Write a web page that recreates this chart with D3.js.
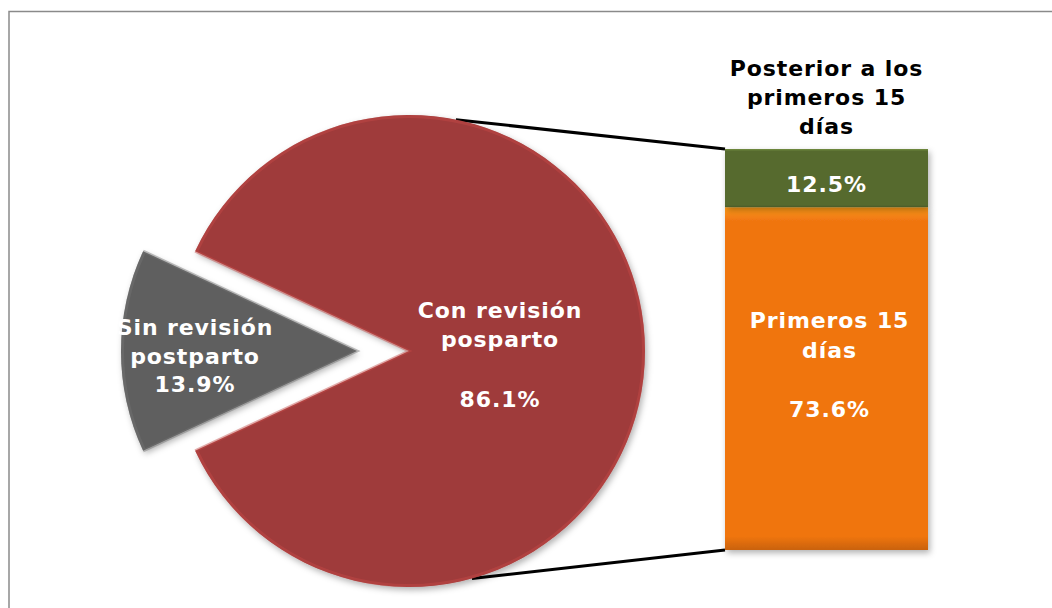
<!DOCTYPE html>
<html>
<head>
<meta charset="utf-8">
<script src="https://cdn.jsdelivr.net/npm/d3@7"></script>
<style>
  body { margin: 0; background: #fff; }
  svg text { font-family: "DejaVu Sans", Verdana, sans-serif; font-weight: bold; letter-spacing: 0.9px; }
</style>
</head>
<body>
<svg id="chart" width="1052" height="608"></svg>
<script>
const pieLabels = [['Sin revisión', 'postparto'], ['Con revisión', 'posparto']];
const pieValues = [13.9, 86.1];
const barLabels = [['Primeros 15', 'días'], []];
const barValues = [73.6, 12.5];
const barTitle = ['Posterior a los', 'primeros 15', 'días'];

const svg = d3.select('#chart');
const defs = svg.append('defs');
const fs = 22;

// frame
svg.append('path')
  .attr('d', 'M9,608 V11.5 H1052')
  .attr('fill', 'none')
  .attr('stroke', '#8a8a8a')
  .attr('stroke-width', 1.5);

const cx = 409, cy = 351, r = 236, explode = 52;
const pieColors = ['#5e5e5e', '#9f3b3a'];
const barColors = ['#f07511', '#566a2f'];

function grad(id, base) {
  const g = defs.append('radialGradient').attr('id', id)
    .attr('gradientUnits', 'userSpaceOnUse')
    .attr('cx', cx).attr('cy', cy).attr('r', r);
  g.append('stop').attr('offset', '0.9').attr('stop-color', base);
  g.append('stop').attr('offset', '0.97').attr('stop-color', d3.color(base).darker(0.3));
  g.append('stop').attr('offset', '1').attr('stop-color', d3.color(base).brighter(0.6));
}
grad('g0', pieColors[0]);
grad('g1', pieColors[1]);

const shadow = defs.append('filter').attr('id', 'sh').attr('x', '-10%').attr('y', '-10%').attr('width', '130%').attr('height', '130%');
shadow.append('feDropShadow').attr('dx', 2).attr('dy', 3).attr('stdDeviation', 3).attr('flood-opacity', 0.3);

const total = d3.sum(pieValues);
const grayAngle = pieValues[0] / total * 2 * Math.PI;
const pie = d3.pie().sort(null)
  .startAngle(-Math.PI / 2 - grayAngle / 2)
  .endAngle(-Math.PI / 2 - grayAngle / 2 + 2 * Math.PI);
const arcs = pie(pieValues);
const arc = d3.arc().innerRadius(0).outerRadius(r);

// bar scale
const barX0 = 725, barW = 203;
const y = d3.scaleLinear().domain([0, d3.sum(barValues)]).range([550, 149]);

// connector lines
const a1 = 0.2, a2 = Math.PI - 0.27;
svg.append('line')
  .attr('x1', cx + r * Math.sin(a1)).attr('y1', cy - r * Math.cos(a1))
  .attr('x2', barX0).attr('y2', y(d3.sum(barValues)))
  .attr('stroke', '#000').attr('stroke-width', 3);
svg.append('line')
  .attr('x1', cx + r * Math.sin(a2)).attr('y1', cy - r * Math.cos(a2))
  .attr('x2', barX0).attr('y2', y(0))
  .attr('stroke', '#000').attr('stroke-width', 3);

const pieG = svg.selectAll('g.slice')
  .data(arcs)
  .join('g')
  .attr('class', 'slice')
  .attr('transform', (d, i) => {
    const mid = (d.startAngle + d.endAngle) / 2;
    const off = i === 0 ? explode : 0;
    return `translate(${cx + off * Math.sin(mid)},${cy - off * Math.cos(mid)})`;
  });

pieG.append('path')
  .attr('d', arc)
  .attr('fill', (d, i) => pieColors[i])
  .attr('filter', 'url(#sh)');
pieG.append('path')
  .attr('d', d3.arc().innerRadius(0).outerRadius(r - 1.5))
  .attr('fill', 'none')
  .attr('stroke', (d, i) => d3.color(pieColors[i]).brighter(0.6))
  .attr('stroke-opacity', 0.45)
  .attr('stroke-width', 3);

// pie labels
const pieLabelPos = [[195, 335, 29], [500, 318, 29]];
pieG.each(function(d, i) {
  const [lx, ly, lh] = pieLabelPos[i];
  const t = svg.append('text')
    .attr('text-anchor', 'middle')
    .attr('fill', '#fff')
    .attr('font-size', fs);
  pieLabels[i].forEach((s, k) => {
    t.append('tspan').attr('x', lx).attr('y', ly + k * lh).text(s);
  });
  const pct = d3.format('.1f')(pieValues[i]) + '%';
  svg.append('text')
    .attr('text-anchor', 'middle')
    .attr('fill', '#fff')
    .attr('font-size', fs)
    .attr('x', lx).attr('y', i === 0 ? ly + 2 * lh - 1 : 407)
    .text(pct);
});

// stacked bar
let acc = 0;
const stack = barValues.map((v, i) => {
  const s = {v: v, y0: acc, y1: acc + v, i: i};
  acc += v;
  return s;
});

stack.forEach(s => {
  const lg = defs.append('linearGradient').attr('id', 'b' + s.i)
    .attr('x1', 0).attr('y1', 0).attr('x2', 0).attr('y2', 1);
  const c = barColors[s.i];
  lg.append('stop').attr('offset', 0).attr('stop-color', d3.color(c).brighter(0.8));
  lg.append('stop').attr('offset', 0.04).attr('stop-color', c);
  lg.append('stop').attr('offset', 0.96).attr('stop-color', c);
  lg.append('stop').attr('offset', 1).attr('stop-color', d3.color(c).darker(0.5));
});

svg.selectAll('rect.bar')
  .data(stack)
  .join('rect')
  .attr('class', 'bar')
  .attr('x', barX0)
  .attr('width', barW)
  .attr('y', d => y(d.y1))
  .attr('height', d => y(d.y0) - y(d.y1))
  .attr('fill', d => `url(#b${d.i})`)
  .attr('filter', 'url(#sh)');

const bx = barX0 + barW / 2;
svg.append('text')
  .attr('text-anchor', 'middle').attr('fill', '#fff').attr('font-size', fs)
  .attr('x', bx).attr('y', 192)
  .text(d3.format('.1f')(barValues[1]) + '%');

const bt = svg.append('text')
  .attr('text-anchor', 'middle').attr('fill', '#fff').attr('font-size', fs);
barLabels[0].forEach((s, k) => {
  bt.append('tspan').attr('x', bx + 3).attr('y', 328 + k * 30).text(s);
});
svg.append('text')
  .attr('text-anchor', 'middle').attr('fill', '#fff').attr('font-size', fs)
  .attr('x', bx + 3).attr('y', 417)
  .text(d3.format('.1f')(barValues[0]) + '%');

// bar title
const tt = svg.append('text')
  .attr('text-anchor', 'middle').attr('fill', '#000').attr('font-size', fs);
barTitle.forEach((s, k) => {
  tt.append('tspan').attr('x', bx).attr('y', 76 + k * 29).text(s);
});
</script>
</body>
</html>
